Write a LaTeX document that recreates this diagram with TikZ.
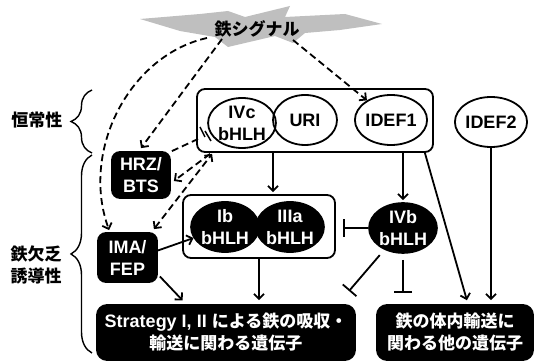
\documentclass[tikz,border=0pt]{standalone}
\usepackage{fontspec}
\setmainfont{Liberation Sans}
\newfontfamily\jpf{Noto Sans CJK JP}
\newcommand\jp{\jpf\fontsize{17}{22}\selectfont}
\usetikzlibrary{arrows.meta,decorations.pathreplacing,shapes.geometric,calc}
\newcommand\fsz{\fontsize{18}{22}\selectfont}
\begin{document}
\begin{tikzpicture}[x=1pt,y=-1pt, line width=1.8pt,
  every node/.style={font=\fsz\bfseries, align=center, inner sep=0pt},
  ell/.style={ellipse, draw, minimum width=66pt, minimum height=50pt},
  bell/.style={ell, fill=black, text=white},
  bbox/.style={rounded corners=8pt, fill=black, text=white, draw},
  grpbox/.style={draw, rounded corners=8pt},
  arr/.style={-{Straight Barb[length=5pt,width=10pt]}},
  darr/.style={{Straight Barb[length=5pt,width=10pt]}-{Straight Barb[length=5pt,width=10pt]}},
  dsh/.style={dash pattern=on 7pt off 4pt},
  tbar/.style={-{Bar[width=18pt]}},
  brc/.style={line width=1.4pt, decorate, decoration={brace, amplitude=21pt}}]
\useasboundingbox (0,0) rectangle (536,363);
% burst
\fill[gray!50] (140,19) -- (200,14) -- (228,11) -- (245,17) -- (290,6) -- (285,17)
  -- (345,14) -- (382,24) -- (340,30) -- (305,33) -- (293,43) -- (275,36)
  -- (228,47) -- (215,37) -- (180,31) -- cycle;
\node (sig) at (257,29) {\jp 鉄シグナル};
% group boxes
\node[grpbox, minimum width=236pt, minimum height=63pt] (grp) at (315,120.5) {};
\node[ell, minimum width=67pt] (ivc) at (242,123) {IVc\\bHLH};
\node[ell, minimum width=64pt] (uri) at (305,120) {URI};
\node[ell] (idef1) at (391,120) {IDEF1};
\node[ell, minimum width=64pt] (idef2) at (491,122) {IDEF2};
\node[grpbox, minimum width=152pt, minimum height=63pt] (inner) at (259,226.5) {};
\node[bell] (ib) at (225,227) {Ib\\bHLH};
\node[bell] (iiia) at (290,227) {IIIa\\bHLH};
\node[bell, minimum width=67pt, minimum height=48pt] (ivb) at (403,228) {IVb\\bHLH};
\node[bbox, minimum width=58pt, minimum height=46pt] (hrz) at (141,175) {HRZ/\\BTS};
\node[bbox, minimum width=59pt, minimum height=49pt] (ima) at (127.5,257.5) {IMA/\\FEP};
\node[bbox, rounded corners=10pt, minimum width=258pt, minimum height=55pt] (strat) at (226,332.5)
  {Strategy I, II {\jp による鉄の吸収・}\\{\jp 輸送に関わる遺伝子}};
\node[bbox, rounded corners=10pt, minimum width=156pt, minimum height=55pt] (other) at (455,332.5)
  {{\jp 鉄の体内輸送に}\\{\jp 関わる他の遺伝子}};
% side labels
\node (hom) at (37,120) {\jp 恒常性};
\node (ind) at (36,265) {{\jp 鉄欠乏}\\{\jp 誘導性}};
\draw[brc] (92,153) -- (92,90);
\draw[brc] (92,353) -- (92,155);
% dashed signal arrows
\coordinate (s1) at (207,38);
\coordinate (s2) at (222,39);
\coordinate (s3) at (293,40);
\draw[dsh, arr] (s1) .. controls (130,55) and (80,150) .. ([xshift=12pt,yshift=2pt]ima.north west);
\draw[dsh, arr] (s2) -- ([yshift=3pt]hrz.north);
\draw[dsh, arr] (s3) -- (idef1);
% HRZ inhibits IVc
\coordinate (tb) at (198,139);
\draw[dsh] ([xshift=1pt]hrz.north east) -- (tb);
\coordinate (b1a) at (200,127); \coordinate (b1b) at (205,137);
\coordinate (b2a) at (205,131); \coordinate (b2b) at (211,141);
\draw[line width=1.5pt] (b1a) -- (b1b);
\draw[line width=1.5pt] (b2a) -- (b2b);
\draw[dsh, arr] ([xshift=14pt,yshift=-1pt]grp.south west) -- ([xshift=3pt,yshift=-6pt]hrz.east);
\draw[dsh, darr] ([xshift=-4pt,yshift=3pt]ima.north east) -- ([xshift=16pt,yshift=-1pt]grp.south west);
% solid arrows
\draw[arr, shorten >=2pt] ($(grp.south)+(-42,0)$) -- ($(inner.north)+(14,0)$);
\draw[arr, shorten >=2pt] (ivb.north |- grp.south) -- (ivb.north);
\draw[arr, shorten >=4pt] ([xshift=-9pt]grp.south east) -- ([xshift=13pt]other.north);
\draw[arr, shorten >=4pt] (idef2.south) -- (idef2.south |- other.north);
\draw[tbar, shorten >=7pt] (ivb.west) -- (ivb.west -| inner.east);
\coordinate (t2) at (349,291);
\draw[tbar, shorten <=7pt] (ivb) -- (t2);
\coordinate (t3) at (403,293);
\draw[tbar, shorten <=6pt] (ivb.south) -- (t3);
\draw[arr, shorten >=4pt] (inner.south) -- (inner.south |- strat.north);
\draw[arr] ([yshift=7pt]ima.east) -- (ib);
\draw[arr, shorten >=5pt] ([xshift=2pt,yshift=-19pt]ima.east) -- ([xshift=90pt]strat.north west);
\end{tikzpicture}
\end{document}
